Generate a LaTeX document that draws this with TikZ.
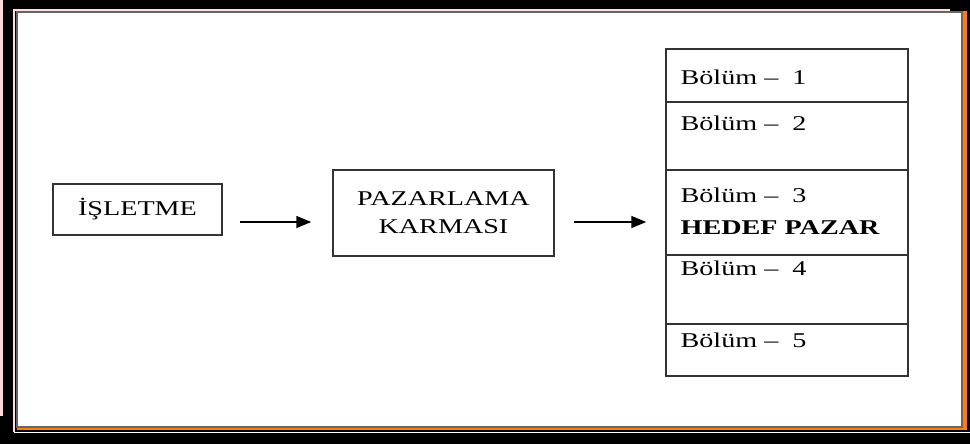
\documentclass[tikz,border=0pt]{standalone}
\usepackage{fontspec}
\setmainfont{Liberation Serif}[FakeStretch=1.34]
\usetikzlibrary{arrows.meta}

\begin{document}
\begin{tikzpicture}[x=0.5pt,y=-0.5pt,
    kutu/.style={draw=black!80,line width=0.75pt,inner sep=0pt,font=\fontsize{10.5}{14}\selectfont},
    bolum/.style={kutu,minimum width=121pt},
    yazi/.style={anchor=base west,inner sep=0pt,font=\fontsize{10.5}{14}\selectfont},
    ok/.style={line width=0.75pt,-{Triangle[length=7.5pt,width=6pt]}}]
  \useasboundingbox (0,0) rectangle (970,444);
  % cerceve
  \fill[black] (0,0) rectangle (970,444);
  \fill[pink!60] (0,0) rectangle (3,416);
  \draw[pink!50,line width=0.8pt] (14,432) |- (950,10);
  \draw[white,line width=0.8pt] (14,432.5) -- (970,432.5);
  \fill[orange] (963,11) rectangle (967,430);
  \fill[orange] (17,428) rectangle (967,430);
  \filldraw[fill=white,draw=black!60,line width=0.8pt] (17,12) rectangle (962,427);
  % kutular
  \node[kutu,minimum width=84.5pt,minimum height=25.5pt] (isletme) at (137.5,209.5) {İŞLETME};
  \node[kutu,minimum width=110.5pt,minimum height=43pt,align=center] (pazar) at (443.5,213) {PAZARLAMA\\KARMASI};
  \node[bolum,minimum height=26.5pt] (b1) at (787,75.5) {};
  \node[bolum,minimum height=34pt] (b2) at (787,136) {};
  \node[bolum,minimum height=42.5pt] (b3) at (787,212.5) {};
  \node[bolum,minimum height=34.5pt] (b4) at (787,289.5) {};
  \node[bolum,minimum height=26pt] (b5) at (787,350) {};
  \node[yazi] (b1t) at ([shift={(7.5pt,-18pt)}]b1.north west) {Bölüm –\ \ 1};
  \node[yazi] (b2t) at ([shift={(7.5pt,-14.5pt)}]b2.north west) {Bölüm –\ \ 2};
  \node[yazi] (b3t) at ([shift={(7.5pt,-16.5pt)}]b3.north west) {Bölüm –\ \ 3};
  \node[yazi] (hedef) at ([shift={(7.5pt,-32.5pt)}]b3.north west) {\bfseries HEDEF PAZAR};
  \node[yazi] (b4t) at ([shift={(7.5pt,-10.5pt)}]b4.north west) {Bölüm –\ \ 4};
  \node[yazi] (b5t) at ([shift={(7.5pt,-12pt)}]b5.north west) {Bölüm –\ \ 5};
  % oklar
  \draw[ok] ([shift={(8.5pt,-6.25pt)}]isletme.east) -- ([shift={(-10.5pt,-4.5pt)}]pazar.west);
  \draw[ok] ([shift={(9.5pt,-4.5pt)}]pazar.east) -- ([shift={(-9.5pt,-4.75pt)}]b3.west);
\end{tikzpicture}
\end{document}
